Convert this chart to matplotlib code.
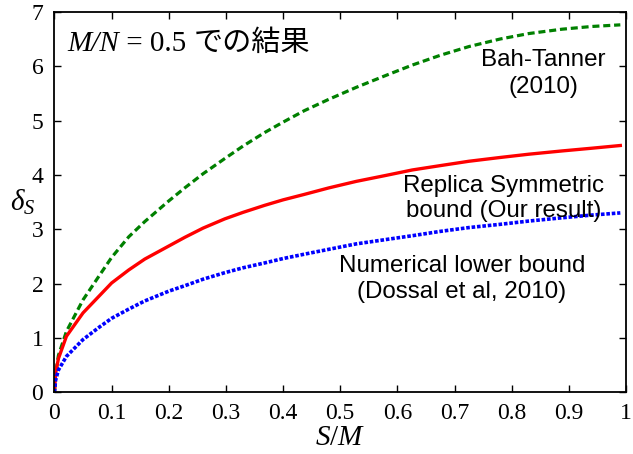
import matplotlib
matplotlib.use("Agg")
import matplotlib.pyplot as plt

# S/M values and the three bounds
s_over_m = [0, 0.002, 0.007, 0.021, 0.05, 0.08, 0.1, 0.13, 0.158, 0.2, 0.228, 0.26,
            0.298, 0.33, 0.368, 0.4, 0.437, 0.48, 0.528, 0.58, 0.626, 0.675, 0.725,
            0.78, 0.83, 0.888, 0.94, 0.99]
bah_tanner = [0, 0.35, 0.68, 1.12, 1.70, 2.17, 2.48, 2.86, 3.14, 3.52, 3.76, 4.02,
              4.30, 4.53, 4.78, 4.97, 5.18, 5.39, 5.61, 5.83, 6.02, 6.20, 6.36,
              6.50, 6.60, 6.68, 6.73, 6.76]
replica = [0, 0.35, 0.62, 1.03, 1.46, 1.79, 2.01, 2.25, 2.45, 2.69, 2.85, 3.02,
           3.19, 3.31, 3.44, 3.54, 3.64, 3.76, 3.88, 3.99, 4.09, 4.17, 4.25,
           4.32, 4.38, 4.44, 4.49, 4.54]
dossal = [0, 0.22, 0.41, 0.66, 0.97, 1.21, 1.36, 1.53, 1.68, 1.86, 1.96, 2.08,
          2.20, 2.29, 2.38, 2.46, 2.54, 2.63, 2.73, 2.81, 2.88, 2.96, 3.03,
          3.09, 3.15, 3.21, 3.26, 3.30]

xticks = [0, 0.1, 0.2, 0.3, 0.4, 0.5, 0.6, 0.7, 0.8, 0.9, 1]
xticklabels = ["0", "0.1", "0.2", "0.3", "0.4", "0.5", "0.6", "0.7", "0.8", "0.9", "1"]
yticks = [0, 1, 2, 3, 4, 5, 6, 7]

plt.rcParams["font.family"] = ["Liberation Serif", "Noto Sans CJK JP"]
plt.rcParams["mathtext.fontset"] = "custom"
plt.rcParams["mathtext.rm"] = "Liberation Serif"
plt.rcParams["mathtext.it"] = "Liberation Serif:italic"

fig = plt.figure(figsize=(6.33, 4.54), dpi=100)
ax = fig.add_axes([0.086, 0.136, 0.903, 0.838])

ax.plot(s_over_m, bah_tanner, color="#008000", linestyle=(0, (2.2, 1.2)), linewidth=2.3)
ax.plot(s_over_m, replica, color="#ff0000", linestyle="-", linewidth=2.4)
ax.plot(s_over_m, dossal, color="#0000ff", linestyle=(0, (1, 0.5)), linewidth=2.6)

ax.set_xlim(0, 1)
ax.set_ylim(0, 7)
ax.set_xticks(xticks)
ax.set_xticklabels(xticklabels)
ax.set_yticks(yticks)
ax.tick_params(direction="in", top=True, right=True, length=5, width=1,
               labelsize=17, pad=8)
for sp in ax.spines.values():
    sp.set_linewidth(1.3)

ax.set_xlabel("$S/M$", fontsize=21)
ax.xaxis.set_label_coords(0.5, -0.085)
ax.set_ylabel(r"$\delta_S$", fontsize=21, rotation=0, ha="center", va="center")
ax.yaxis.set_label_coords(-0.056, 0.5)

# title inside the axes: italic M/N, upright "= 0.5", Japanese in gothic
t1 = ax.text(0.022, 6.28, "M/N", fontsize=21, family="Liberation Serif",
             style="italic", ha="left", va="baseline")
t2 = ax.annotate(" = 0.5 ", xy=(1, 6.28), xycoords=(t1, "data"), fontsize=21,
                 family="Liberation Serif", ha="left", va="baseline")
ax.annotate("での結果", xy=(1, 6.28), xycoords=(t2, "data"), fontsize=21,
            family="Noto Sans CJK JP", ha="left", va="baseline")

# last-line baselines of the two-line notes
sans = ["Liberation Sans", "DejaVu Sans"]
ax.text(0.856, 5.51, "Bah-Tanner\n(2010)", fontsize=17.4, ha="center", va="baseline",
        family=sans, linespacing=1.28)
ax.text(0.786, 3.22, "Replica Symmetric\nbound (Our result)", fontsize=17.4,
        ha="center", va="baseline", family=sans, linespacing=1.22)
ax.text(0.713, 1.74, "Numerical lower bound\n(Dossal et al, 2010)", fontsize=17.4,
        ha="center", va="baseline", family=sans, linespacing=1.22)

fig.savefig("out.png", dpi=100)
